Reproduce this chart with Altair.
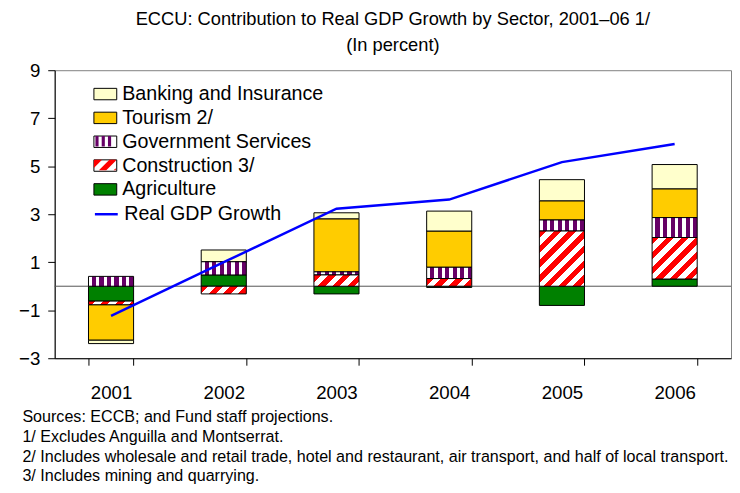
import math
import altair as alt
import pandas as pd

# ---------------- data ----------------
years = ["2001", "2002", "2003", "2004", "2005", "2006"]
agriculture = [-0.62, 0.47, -0.32, -0.05, -0.80, 0.30]
construction = [-0.15, -0.32, 0.47, 0.32, 2.30, 1.73]
government = [0.41, 0.55, 0.13, 0.47, 0.46, 0.83]
tourism = [-1.48, 0.00, 2.21, 1.51, 0.80, 1.20]
banking = [-0.14, 0.49, 0.25, 0.83, 0.88, 1.01]
gdp_growth = [-1.24, 1.00, 3.23, 3.61, 5.17, 5.93]

sector_names = ["Agriculture", "Construction 3/", "Government Services",
                "Tourism 2/", "Banking and Insurance"]
sector_values = [agriculture, construction, government, tourism, banking]
legend_order = list(reversed(sector_names))
line_name = "Real GDP Growth"

title_lines = ["ECCU: Contribution to Real GDP Growth by Sector, 2001\u201306 1/",
               "(In percent)"]
footnotes = [
    "Sources: ECCB; and Fund staff projections.",
    "1/ Excludes Anguilla and Montserrat.",
    "2/ Includes wholesale and retail trade, hotel and restaurant, air transport, and half of local transport.",
    "3/ Includes mining and quarrying.",
]
y_ticks = [-3, -1, 1, 3, 5, 7, 9]

# ---------------- styles ----------------
W, H = 681, 290
Y_MIN, Y_MAX = -3, 9
BAND = 0.4
RED = "#FF0000"
PURPLE = "#660066"
WHITE = "#FFFFFF"
sector_colors = {
    "Banking and Insurance": "#FFFFCC",
    "Tourism 2/": "#FFCC00",
    "Government Services": PURPLE,
    "Construction 3/": RED,
    "Agriculture": "#008000",
}
FONT = "Liberation Sans"
AX_FS = 18.8
LEG_FS = 19.8
LEG_X = 39
LEG_ROW0 = 26      # centre of first legend row, px below plot top
LEG_PITCH = 24.0
LEG_SHIFT = 14
SYM_SIZE = 529     # 23 px wide symbols
STRIPE = 10.5      # diagonal stripe period (px)


def vstripes(n, frac=0.45):
    stops = []
    for i in range(n):
        a, b, c = i / n, (i + frac) / n, (i + 1) / n
        stops += [{"offset": a, "color": WHITE}, {"offset": b, "color": WHITE},
                  {"offset": b, "color": PURPLE}, {"offset": c, "color": PURPLE}]
    return {"gradient": "linear", "x1": 0, "y1": 0, "x2": 1, "y2": 0, "stops": stops}


def diag(w, h, period=STRIPE, frac=0.5):
    k = (w + h) / (w * w + h * h)
    n = (w + h) / (period * math.sqrt(2))
    stops = []
    i = 0
    while i < n:
        a = i / n
        b = min((i + frac) / n, 1.0)
        c = min((i + 1) / n, 1.0)
        stops += [{"offset": a, "color": RED}, {"offset": b, "color": RED}]
        if b < 1.0:
            stops += [{"offset": b, "color": WHITE}, {"offset": c, "color": WHITE}]
        i += 1
    return {"gradient": "linear", "x1": 0, "y1": 0, "x2": k * w, "y2": k * h,
            "stops": stops}


# ---- legend symbol shapes (unit box -1..1 wide, -0.5..0.5 high) ----
RECT_PATH = "M-1,-0.5H1V0.5H-1Z"


def clip_half(poly, f):
    out = []
    for i in range(len(poly)):
        p, q = poly[i], poly[(i + 1) % len(poly)]
        fp, fq = f(p), f(q)
        if fp >= 0:
            out.append(p)
        if (fp >= 0) != (fq >= 0):
            t = fp / (fp - fq)
            out.append((p[0] + t * (q[0] - p[0]), p[1] + t * (q[1] - p[1])))
    return out


def poly_path(poly):
    return "M" + "L".join(f"{x:.3f},{y:.3f}" for x, y in poly) + "Z"


def vstripe_path(n=3, frac=0.5, inset=0.04):
    p = (2 - 2 * inset) / (n + frac)
    parts = []
    for i in range(n):
        x0 = -1 + inset + i * p + p * (1 - frac) / 2
        x1 = x0 + p * frac
        parts.append(poly_path([(x0, -0.5 + inset), (x1, -0.5 + inset),
                                (x1, 0.5 - inset), (x0, 0.5 - inset)]))
    return "".join(parts)


def dstripe_path(period_px=STRIPE, frac=0.5, inset=0.04):
    unit = math.sqrt(SYM_SIZE) / 2
    pt = period_px / unit * math.sqrt(2)
    rect = [(-1 + inset, -0.5 + inset), (1 - inset, -0.5 + inset),
            (1 - inset, 0.5 - inset), (-1 + inset, 0.5 - inset)]
    parts = []
    t = -1.5 + 0.15
    while t < 1.5:
        a, b = t, t + pt * frac
        poly = clip_half(rect, lambda q, a=a: q[0] + q[1] - a)
        poly = clip_half(poly, lambda q, b=b: b - (q[0] + q[1]))
        if len(poly) >= 3:
            parts.append(poly_path(poly))
        t += pt
    return "".join(parts)


rows = []
for k, (name, vals) in enumerate(zip(sector_names, sector_values)):
    for y, v in zip(years, vals):
        rows.append({"year": y, "sector": name, "value": v, "order": k})
df = pd.DataFrame(rows)
df_gdp = pd.DataFrame({"year": years, "gdp": gdp_growth,
                       "series": [line_name] * len(years)})
df_zero = pd.DataFrame({"z": [0]})
df_leg = pd.DataFrame({"name": legend_order})

yscale = alt.Scale(domain=[Y_MIN, Y_MAX], nice=False, zero=False)
yaxis = alt.Axis(values=y_ticks, title=None, grid=False, tickSize=7,
                 labelPadding=8, labelFontSize=AX_FS, labelColor="black",
                 domainColor="black", tickColor="black", labelFont=FONT)
xaxis = alt.Axis(tickBand="extent", labelAngle=0, tickSize=7, labelPadding=19,
                 labelFontSize=AX_FS, labelColor="black", domainColor="black",
                 tickColor="black", grid=False, labelFont=FONT,
                 title=footnotes, titleFontSize=16.2, titleFontWeight="normal",
                 titleAlign="left", titleAnchor="start", titleBaseline="top",
                 titleX=-33, titleY=51, titleLineHeight=19.8,
                 titleColor="black", titleFont=FONT)
X = alt.X("year:N", scale=alt.Scale(domain=years, paddingInner=0.6, paddingOuter=0.3),
          axis=xaxis)
Yv = alt.Y("v0:Q", scale=yscale, axis=yaxis)

step = W / len(years)
bar_w = step * BAND
px_per_unit = H / (Y_MAX - Y_MIN)

base = alt.Chart(df).transform_stack(
    stack="value", groupby=["year"], as_=["v0", "v1"],
    sort=[alt.SortField("order", "ascending")])


def sector_layer(name, fill, extra=None):
    cond = alt.datum.sector == name
    if extra is not None:
        cond = cond & extra
    return base.transform_filter(cond).mark_bar(
        fill=fill, stroke="black", strokeWidth=1).encode(x=X, y=Yv, y2="v1:Q")


bar_layers = [
    sector_layer("Agriculture", sector_colors["Agriculture"]),
    sector_layer("Tourism 2/", sector_colors["Tourism 2/"]),
    sector_layer("Banking and Insurance", sector_colors["Banking and Insurance"]),
    sector_layer("Government Services", vstripes(6)),
]
for y, v in zip(years, construction):
    h = max(abs(v) * px_per_unit, 1.0)
    bar_layers.append(sector_layer("Construction 3/", diag(bar_w, h),
                                   alt.datum.year == y))


def legend_layer(name, row, color, symbol, stroke=True, show_label=True, z=0):
    centre = LEG_ROW0 + row * LEG_PITCH
    leg = alt.Legend(orient="none", legendX=LEG_X, legendY=centre - LEG_SHIFT,
                     title=None, padding=0, symbolType=symbol, symbolSize=SYM_SIZE,
                     symbolStrokeColor="black", symbolStrokeWidth=1 if stroke else 0,
                     symbolOpacity=1, labelFontSize=LEG_FS, labelFont=FONT,
                     labelColor="black" if show_label else "transparent",
                     labelOffset=5, labelLimit=500, zindex=z)
    return alt.Chart(df_leg).transform_filter(
        alt.datum.name == name).transform_filter("false").mark_bar().encode(
        fill=alt.Fill("name:N", scale=alt.Scale(domain=[name], range=[color]),
                      legend=leg))


legend_layers = [
    legend_layer("Banking and Insurance", 0, sector_colors["Banking and Insurance"], RECT_PATH),
    legend_layer("Tourism 2/", 1, sector_colors["Tourism 2/"], RECT_PATH),
    legend_layer("Government Services", 2, WHITE, RECT_PATH),
    legend_layer("Government Services", 2, PURPLE, vstripe_path(), stroke=False,
                 show_label=False, z=1),
    legend_layer("Construction 3/", 3, WHITE, RECT_PATH),
    legend_layer("Construction 3/", 3, RED, dstripe_path(), stroke=False,
                 show_label=False, z=1),
    legend_layer("Agriculture", 4, sector_colors["Agriculture"], RECT_PATH),
]

zero = alt.Chart(df_zero).mark_rule(color="#555555", strokeWidth=1).encode(
    y=alt.Y("z:Q", scale=yscale, axis=yaxis))

line = alt.Chart(df_gdp).mark_line(strokeWidth=2.5).encode(
    x=X,
    y=alt.Y("gdp:Q", scale=yscale, axis=yaxis),
    stroke=alt.Stroke("series:N",
                      scale=alt.Scale(domain=[line_name], range=["#0000FF"]),
                      legend=alt.Legend(orient="none", legendX=LEG_X,
                                        legendY=LEG_ROW0 + 5 * LEG_PITCH - LEG_SHIFT,
                                        title=None, padding=0,
                                        symbolType="stroke", symbolSize=SYM_SIZE,
                                        symbolStrokeWidth=2.5,
                                        labelFontSize=LEG_FS, labelFont=FONT,
                                        labelColor="black", labelOffset=5,
                                        labelLimit=500)),
)

chart = alt.layer(zero, *bar_layers, line, *legend_layers).resolve_scale(
    fill="independent"
).resolve_legend(fill="independent", stroke="independent").properties(
    width=W, height=H,
    title=alt.Title(title_lines, fontSize=18.4, fontWeight="normal", font=FONT,
                    color="black", anchor="middle", frame="group",
                    lineHeight=26, offset=7),
    padding={"left": 10, "top": 0, "right": 0, "bottom": 0},
).configure(font=FONT).configure_view(stroke="#808080", strokeWidth=1)

chart.save("out.html", embed_options={"renderer": "svg", "actions": False})
